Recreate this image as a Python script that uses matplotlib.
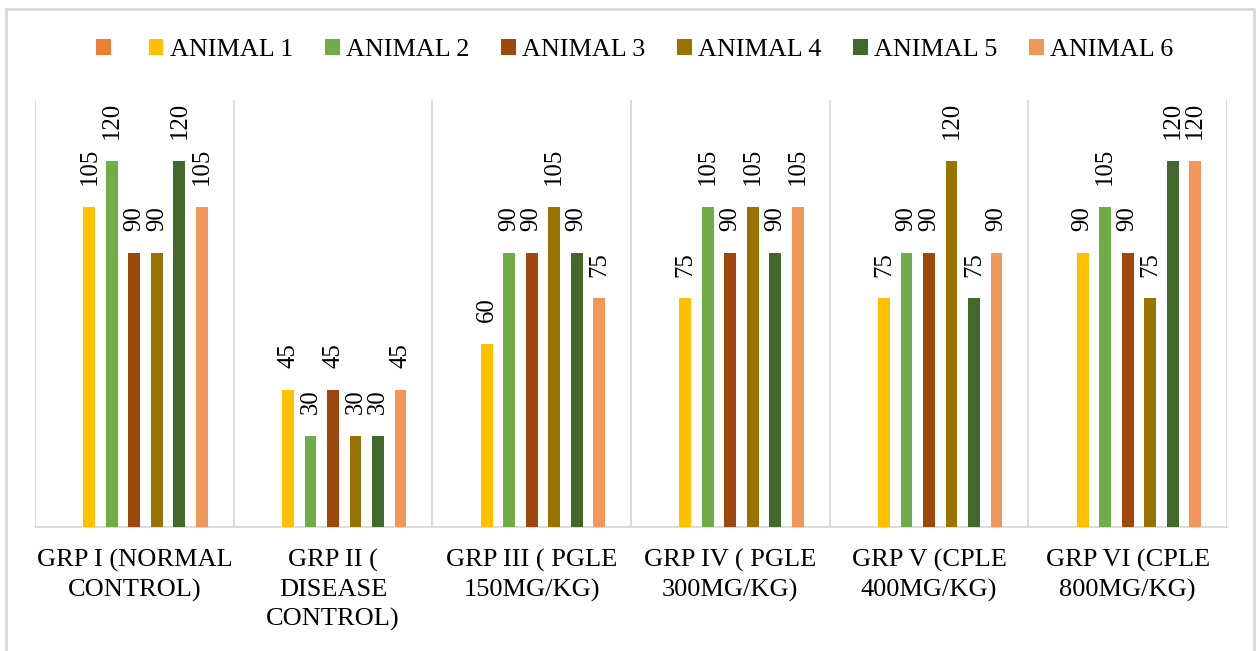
import matplotlib
matplotlib.use("Agg")
import matplotlib.pyplot as plt
from matplotlib.patches import Patch, Rectangle
import numpy as np

# Category labels (x axis)
groups = [
    "GRP I (NORMAL\nCONTROL)",
    "GRP II (\nDISEASE\nCONTROL)",
    "GRP III ( PGLE\n150MG/KG)",
    "GRP IV ( PGLE\n300MG/KG)",
    "GRP V (CPLE\n400MG/KG)",
    "GRP VI (CPLE\n800MG/KG)",
]

# Series names; the first series is an unnamed, empty one
series_names = ["", "ANIMAL 1", "ANIMAL 2", "ANIMAL 3", "ANIMAL 4", "ANIMAL 5", "ANIMAL 6"]

# Values per animal across the six groups
blank = [None, None, None, None, None, None]
animal1 = [105, 45, 60, 75, 75, 90]
animal2 = [120, 30, 90, 105, 90, 105]
animal3 = [90, 45, 90, 90, 90, 90]
animal4 = [90, 30, 105, 105, 120, 75]
animal5 = [120, 30, 90, 90, 75, 120]
animal6 = [105, 45, 75, 105, 90, 120]

colors = ["#ED7D31", "#FFC000", "#70AD47", "#9E480E", "#997300", "#43682B", "#F1975A"]

all_series = [blank, animal1, animal2, animal3, animal4, animal5, animal6]

plt.rcParams["font.family"] = ["Liberation Serif", "DejaVu Serif"]

fig = plt.figure(figsize=(12.56, 6.51), dpi=100)
W, H = 1256, 651
ax = fig.add_axes([35 / W, (H - 527) / H, (1227 - 35) / W, (527 - 100) / H])

n = len(all_series)
x = np.arange(len(groups))
slot = 0.1132
bar_w = 0.059

for i, (vals, col) in enumerate(zip(all_series, colors)):
    pos = x + (i - (n - 1) / 2) * slot
    heights = [0 if v is None else v for v in vals]
    bars = ax.bar(pos, heights, width=bar_w, color=col, zorder=3)
    for b, v in zip(bars, vals):
        if v is None:
            continue
        ax.annotate(str(v), (b.get_x() + b.get_width() / 2, v),
                    xytext=(0, 15.5), textcoords="offset points",
                    rotation=90, ha="center", va="bottom",
                    fontsize=17.8, color="black")

ax.set_xlim(-0.5, len(groups) - 0.5)
ax.set_ylim(0, 140)

grid_col = "#D9D9D9"
for xb in np.arange(-0.5, len(groups), 1.0):
    ax.axvline(xb, color=grid_col, lw=1.3, zorder=1)

for s in ["top", "right", "left"]:
    ax.spines[s].set_visible(False)
ax.spines["bottom"].set_color(grid_col)
ax.spines["bottom"].set_linewidth(1.3)

ax.set_yticks([])
ax.set_xticks(x)
ax.set_xticklabels(groups, fontsize=19, linespacing=1.38)
ax.tick_params(axis="x", length=0, pad=16)

handles = [Patch(facecolor=c, edgecolor="none") for c in colors]
fig.legend(handles, series_names, loc="center",
           bbox_to_anchor=(0.5 + 7 / W, 1 - 50 / H),
           ncol=n, frameon=False, fontsize=18.8,
           handlelength=0.55, handleheight=0.55, handletextpad=0.25,
           columnspacing=1.22)

# Light outer frame of the chart area
fig.add_artist(Rectangle((6 / W, -0.05), (1254 - 6) / W, 0.05 + (H - 9) / H,
                         transform=fig.transFigure, fill=False,
                         edgecolor=grid_col, lw=2))

fig.savefig("out.png", dpi=100)
